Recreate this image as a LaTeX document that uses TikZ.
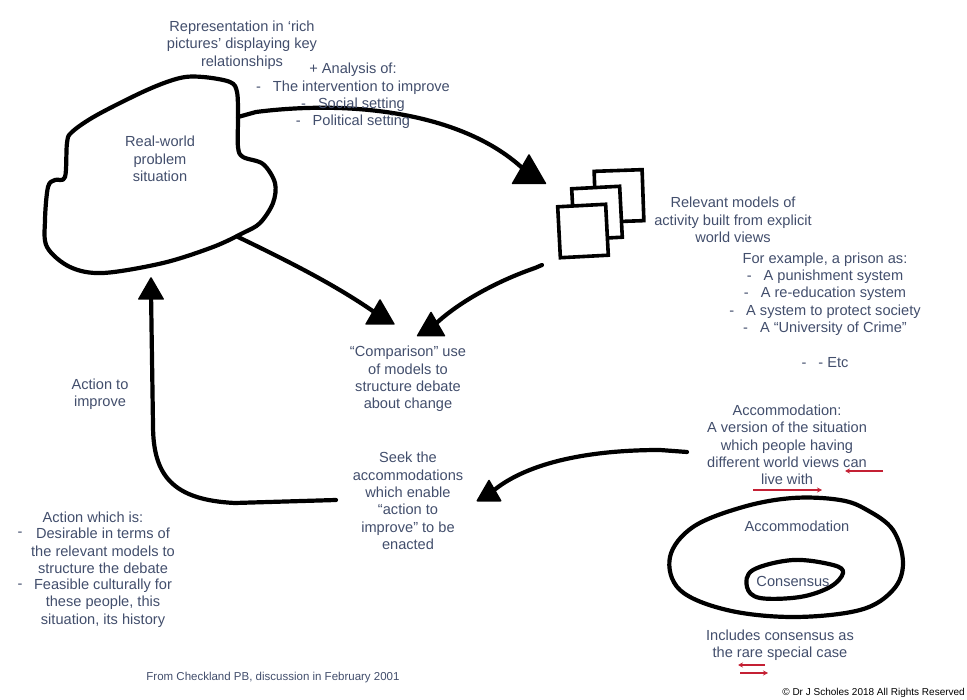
\documentclass[tikz,border=0pt]{standalone}
\usepackage{fontspec}
\setmainfont{Liberation Sans}
\usetikzlibrary{shapes.geometric,arrows.meta}
\definecolor{ink}{RGB}{66,78,108}
\definecolor{redpen}{RGB}{196,32,52}
\begin{document}
\begin{tikzpicture}[x=1pt,y=-1pt,
    pen/.style={line width=4.2pt, line cap=round, line join=round},
    arrowtri/.style={regular polygon, regular polygon sides=3, fill=black, draw=black, line width=1.5pt, line join=round, inner sep=0pt},
    model/.style={draw, fill=white, line width=3.6pt, minimum width=48pt, minimum height=51pt, inner sep=0pt},
    txt/.style={align=center, text=ink, inner sep=0pt, font=\fontsize{14.6}{17.3}\selectfont},
    redline/.style={draw=redpen, line width=1.8pt, -{Stealth[length=5pt,width=5pt]}}]
    \useasboundingbox (0,0) rectangle (967,700);

    % real world situation
    \draw[pen] plot[smooth cycle, tension=0.55] coordinates {(180,78) (203,77) (230,82) (237,92) (238,117) (238,147) (243,157) (263,164) (275,183) (273,203) (260,223) (243,233) (213,247) (163,263) (103,273) (70,267) (47,247) (45,220) (48,187) (55,180) (65,177) (67,143) (72,132) (97,115) (147,90)};
    \coordinate (rw-e) at (238,117);
    \coordinate (rw-s) at (238,237);
    \node[txt] (rw) at (160,159) {Real-world\\problem\\situation};

    \node[txt] (rich) at (242,45) {Representation in `rich\\pictures' displaying key\\relationships};

    % models
    \node[model, rotate=2] (m3) at (619,196) {};
    \node[model, rotate=3] (m2) at (597,213) {};
    \node[model, rotate=3] (m1) at (583,231) {};
    \coordinate (m-s) at (542,265);

    \coordinate (seek-w) at (336,500);
    \coordinate (acc-e) at (687,452);

    \node[arrowtri, minimum size=38pt] (t1) at (529,174) {};
    \node[arrowtri, minimum size=28pt] (t2) at (151,292) {};
    \node[arrowtri, minimum size=32pt] (t3) at (380,316) {};
    \node[arrowtri, minimum size=31pt] (t4) at (431,328) {};
    \node[arrowtri, minimum size=27pt] (t5) at (489,494) {};

    \draw[pen] (rw-e) -- (256,112) .. controls (350,100) and (460,112) .. (t1);
    \draw[pen] (rw-s) .. controls (290,262) and (335,285) .. (t3);
    \draw[pen] (m-s) -- (535,268) .. controls (500,280) and (462,300) .. (t4);
    \draw[pen] (seek-w) -- (235,503) .. controls (172,500) and (153,475) .. (153,425) -- (t2);
    \draw[pen] (acc-e) -- (660,450) .. controls (590,450) and (530,462) .. (t5);

    \node[txt] (analysis) at (353,96) {+ Analysis of:\\-\hspace{12pt}The intervention to improve\\-\hspace{12pt}Social setting\\-\hspace{12pt}Political setting};

    \node[txt] (models) at (733,220) {Relevant models of\\activity built from explicit\\world views};
    \node[txt] (prison) at (825,310) {For example, a prison as:\\-\hspace{12pt}A punishment system\\-\hspace{12pt}A re-education system\\-\hspace{12pt}A system to protect society\\-\hspace{12pt}A ``University of Crime''\\[17.3pt]-\hspace{12pt}- Etc};

    \node[txt] (compare) at (408,379) {``Comparison'' use\\of models to\\structure debate\\about change};
    \node[txt] (improve) at (100,394) {Action to\\improve};
    \node[txt] (seek) at (408,501) {Seek the\\accommodations\\which enable\\``action to\\improve'' to be\\enacted};

    \node[txt] (which) at (93,517) {Action which is:};
    \node[txt] (d1) at (20,534) {-};
    \node[txt] (desire) at (103,551) {Desirable in terms of\\the relevant models to\\structure the debate};
    \node[txt] (d2) at (20,586) {-};
    \node[txt] (feasible) at (103,603) {Feasible culturally for\\these people, this\\situation, its history};

    % accommodation
    \node[txt] (accdef) at (787,445) {Accommodation:\\A version of the situation\\which people having\\different world views can\\live with};
    \draw[redline] (883,471) -- (845,471);
    \draw[redline] (753,490) -- (822,490);

    \draw[pen] plot[smooth cycle, tension=0.6] coordinates {(840,500) (793,498) (743,507) (693,527) (670,557) (680,590) (727,610) (793,617) (860,610) (893,590) (903,563) (893,530) (867,510)};
    \draw[pen] plot[smooth cycle, tension=0.6] coordinates {(753,570) (793,560) (833,565) (843,573) (830,587) (800,597) (760,598) (747,587)};
    \node[txt] (acc) at (797,526) {Accommodation};
    \node[txt] (cons) at (793,581) {Consensus};

    \node[txt] (incl) at (780,645) {Includes consensus as\\the rare special case};
    \draw[redline] (765,665) -- (738,665);
    \draw[redline] (740,673) -- (768,673);

    \node[txt, font=\fontsize{11.5}{14}\selectfont] (from) at (273,678) {From Checkland PB, discussion in February 2001};
    \node[anchor=east, inner sep=0pt, font=\fontsize{10}{12}\selectfont] (copy) at (965,693) {\textcopyright{} Dr J Scholes 2018 All Rights Reserved};
\end{tikzpicture}
\end{document}
